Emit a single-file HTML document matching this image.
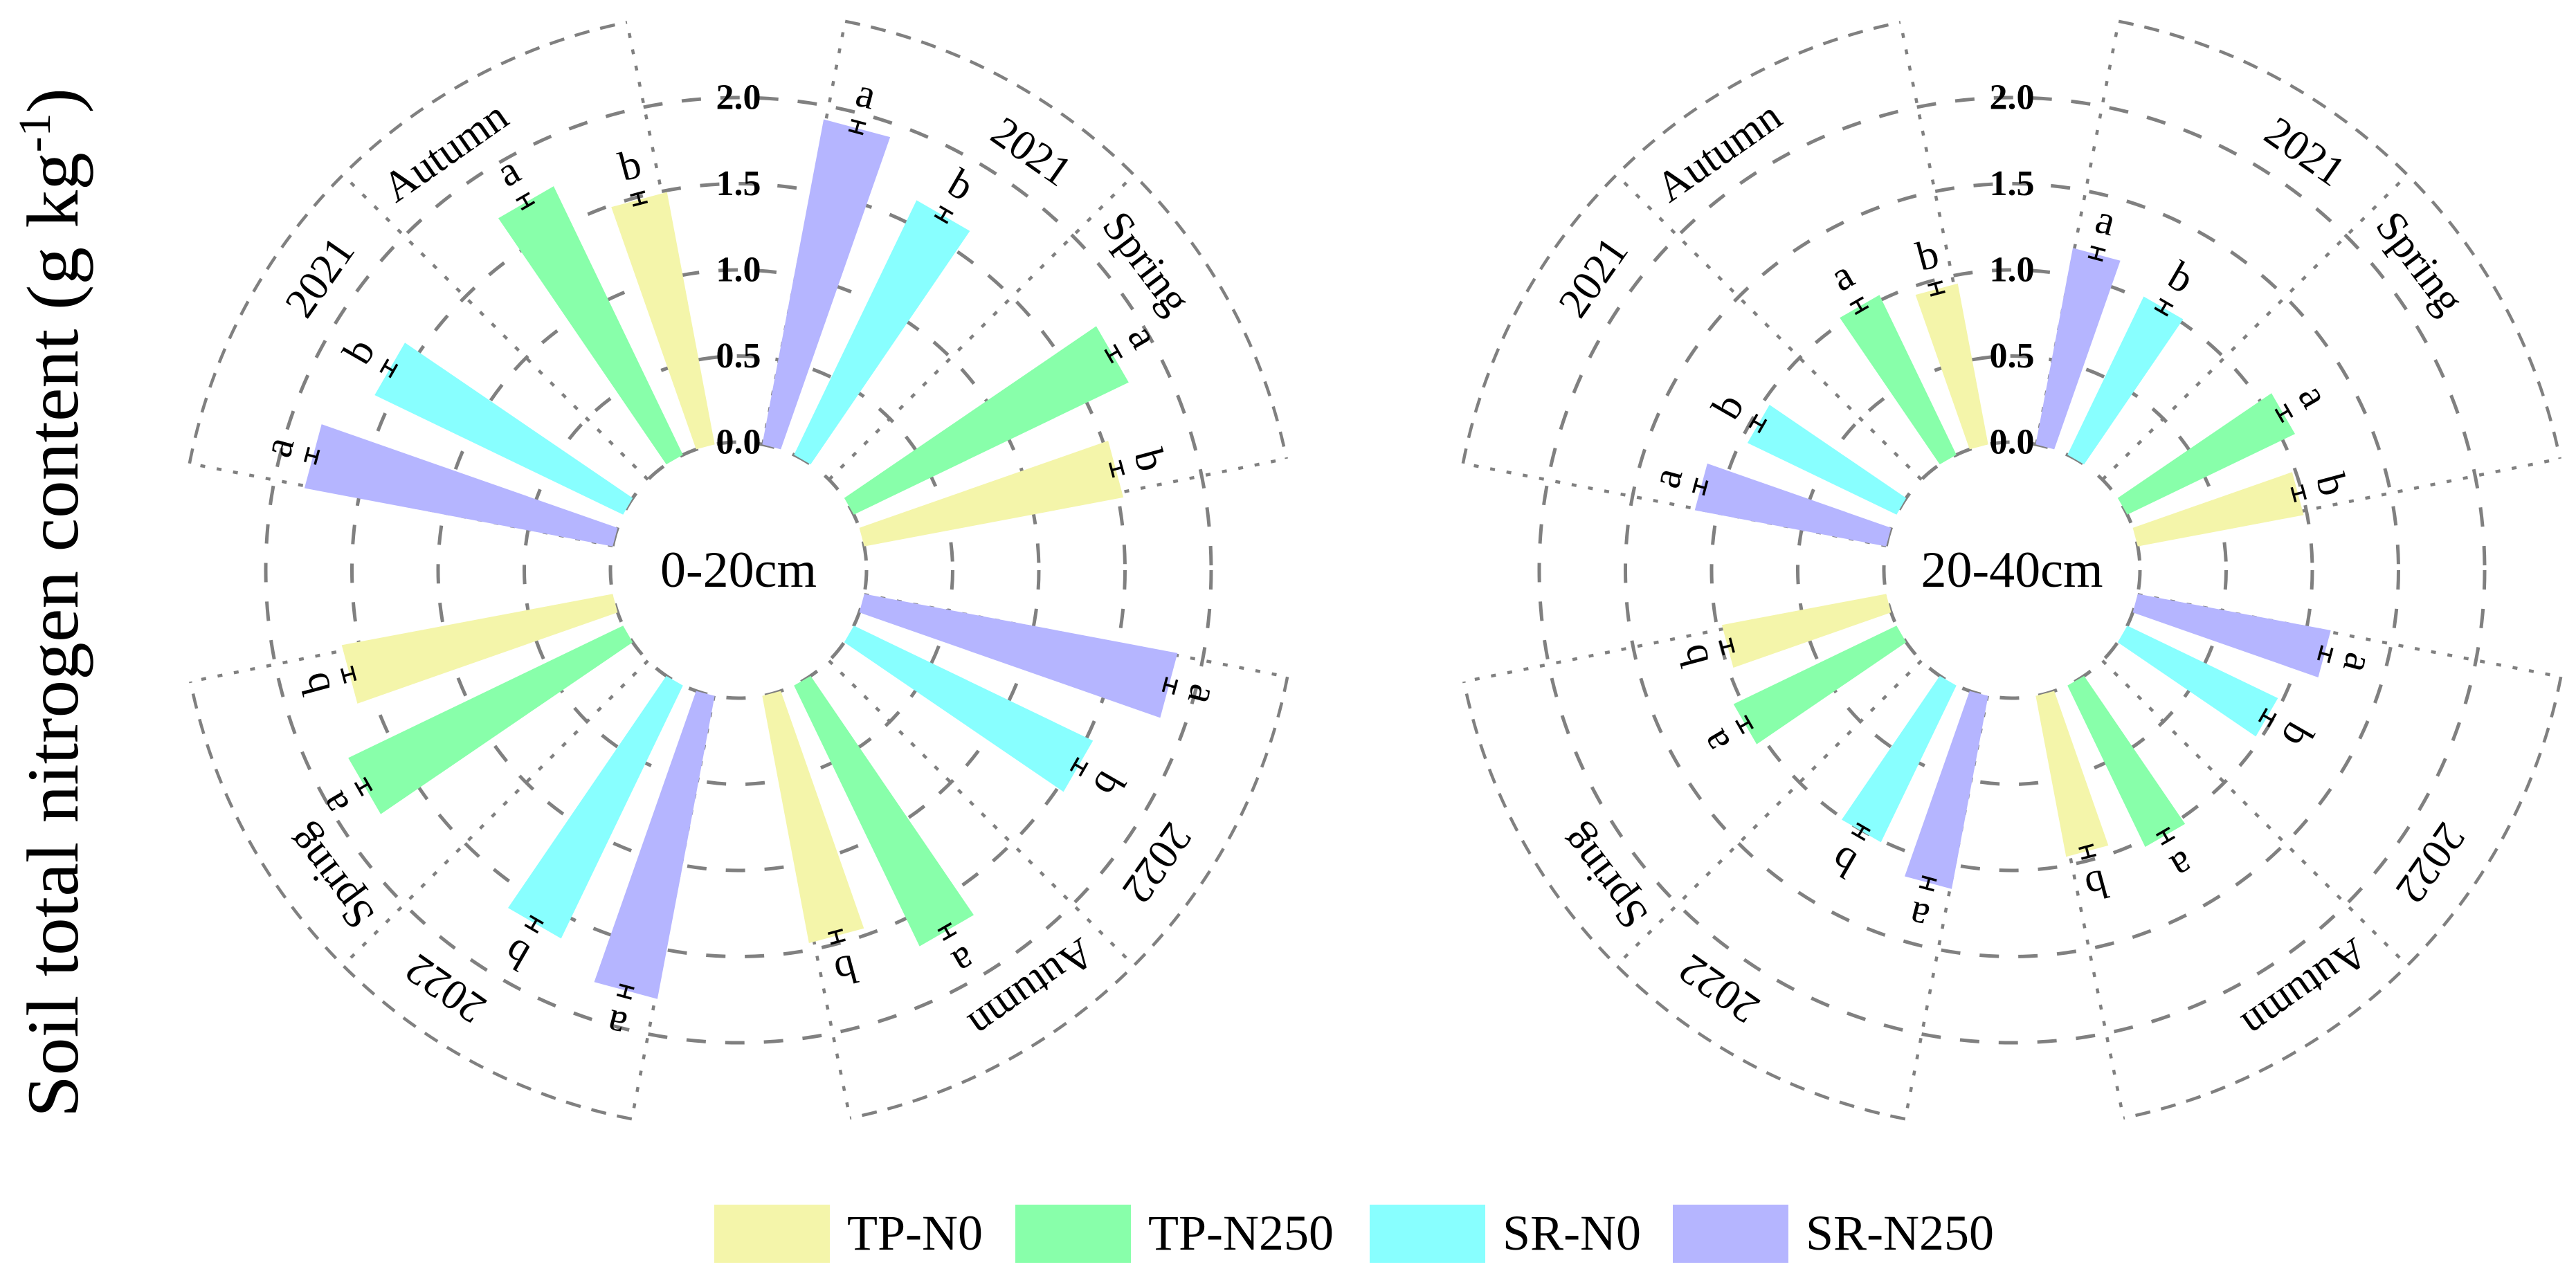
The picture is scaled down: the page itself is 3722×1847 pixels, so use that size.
<!DOCTYPE html>
<html><head><meta charset="utf-8"><style>
html,body{margin:0;padding:0;background:#fff;}
svg{display:block;font-family:"Liberation Serif",serif;}
svg text{font-family:"Liberation Serif",serif;}
</style></head><body>
<svg id="chart" width="3722" height="1847" viewBox="0 0 3722 1847" xmlns="http://www.w3.org/2000/svg" font-family="Liberation Serif, serif">
<text font-family="Liberation Serif, serif" transform="translate(112,871) rotate(-90)" text-anchor="middle" font-size="106" textLength="1488" lengthAdjust="spacingAndGlyphs">Soil total nitrogen content (g kg<tspan font-size="66" dy="-40">-1</tspan><tspan dy="40">)</tspan></text>
<g id="legend"></g>
</svg>
<script>
// Data
const seasons = ["2021 Spring", "2022 Autumn", "2022 Spring", "2021 Autumn"];
const yearLabels = ["2021", "2022", "2022", "2021"];
const seasonLabels = ["Spring", "Autumn", "Spring", "Autumn"];
const treatments = ["SR-N250", "SR-N0", "TP-N250", "TP-N0"];
const legendOrder = ["TP-N0", "TP-N250", "SR-N0", "SR-N250"];
const depths = ["0-20cm", "20-40cm"];
const tickValues = [0, 0.5, 1.0, 1.5, 2.0];
const tickLabels = ["0.0", "0.5", "1.0", "1.5", "2.0"];
// 0-20cm, one value per season (order of seasons)
const top_SR_N250 = [1.92, 1.85, 1.79, 1.82];
const top_SR_N0   = [1.64, 1.54, 1.63, 1.60];
const top_TP_N250 = [1.77, 1.68, 1.77, 1.73];
const top_TP_N0   = [1.53, 1.46, 1.60, 1.49];
// 20-40cm
const sub_SR_N250 = [1.16, 1.14, 1.14, 1.13];
const sub_SR_N0   = [1.02, 0.97, 1.01, 0.96];
const sub_TP_N250 = [1.08, 1.04, 1.05, 1.03];
const sub_TP_N0   = [0.98, 0.95, 0.97, 0.95];
const errTop = [0.03, 0.03, 0.03, 0.03];
const errSub = [0.03, 0.03, 0.03, 0.03];
const letters_SR_N250 = ["a", "a", "a", "a"];
const letters_SR_N0   = ["b", "b", "b", "b"];
const letters_TP_N250 = ["a", "a", "a", "a"];
const letters_TP_N0   = ["b", "b", "b", "b"];

const colors = {"TP-N0":"#f4f5aa","TP-N250":"#88ffaa","SR-N0":"#88ffff","SR-N250":"#b5b5ff"};
const NS = "http://www.w3.org/2000/svg";
const svg = document.getElementById("chart");
const R0 = 185, UNIT = 249, RBOX = 808, BARW = 8.6;
const offsets = [15, 30, 60, 75];
const GREY = "#808080";
const FONT = '"Liberation Serif", serif';

function rad(v){ return R0 + v * UNIT; }
function pt(cx, cy, r, deg){ const a = deg * Math.PI / 180; return [cx + r * Math.sin(a), cy - r * Math.cos(a)]; }
function mk(tag, attrs, parent){ const e = document.createElementNS(NS, tag); for (const k in attrs) e.setAttribute(k, attrs[k]); if (tag === "text") e.style.fontFamily = FONT; (parent || svg).appendChild(e); return e; }

function drawChart(cx, cy, depth, series, errs){
  const g = mk("g", {});
  
  
  for (let q = 0; q < 4; q++) {
    const a1 = q * 90 + 11, a2 = q * 90 + 78.5;
    const p1 = pt(cx, cy, RBOX, a1), p2 = pt(cx, cy, RBOX, a2);
    const arc = mk("path", {d: `M${p1[0]},${p1[1]} A${RBOX},${RBOX} 0 0 1 ${p2[0]},${p2[1]}`, fill: "none", stroke: GREY, "stroke-width": 4.5, "stroke-dasharray": "22 16"}, g);
    
    
    [a1, 45 + q * 90, a2].forEach(function(a){
      const i = pt(cx, cy, R0, a), o = pt(cx, cy, RBOX, a);
      const ln = mk("line", {x1: i[0], y1: i[1], x2: o[0], y2: o[1], stroke: GREY, "stroke-width": 4.5, "stroke-dasharray": "7 17"}, g);
      
      
    });
  }
  tickValues.forEach(function(v){
    const c = mk("circle", {cx: cx, cy: cy, r: rad(v), fill: "none", stroke: GREY, "stroke-width": 5, "stroke-dasharray": "28 28"}, g);
    
    
  });
  for (let q = 0; q < 4; q++) {
    for (let t = 0; t < 4; t++) {
      const name = treatments[t];
      const v = series[t].vals[q], e = errs[q];
      const th = q * 90 + offsets[t];
      const r = rad(v);
      const a = pt(cx, cy, R0, th - BARW / 2), b = pt(cx, cy, r, th - BARW / 2), c = pt(cx, cy, r, th + BARW / 2), d = pt(cx, cy, R0, th + BARW / 2);
      const bar = mk("polygon", {points: `${a} ${b} ${c} ${d}`, fill: colors[name]}, g);
      
      
      const lo = pt(cx, cy, rad(v - e), th), hi = pt(cx, cy, rad(v + e), th);
      const eg = mk("g", {stroke: "#000", "stroke-width": 3.5}, g);
      
      
      mk("line", {x1: lo[0], y1: lo[1], x2: hi[0], y2: hi[1]}, eg);
      [v - e, v + e].forEach(function(vv){
        const rr = rad(vv), da = 11 / rr * 180 / Math.PI;
        const p = pt(cx, cy, rr, th - da), s = pt(cx, cy, rr, th + da);
        mk("line", {x1: p[0], y1: p[1], x2: s[0], y2: s[1]}, eg);
      });
      const lp = pt(cx, cy, rad(v) + 50, th);
      const lt = mk("text", {x: lp[0], y: lp[1], "font-size": 60, "text-anchor": "middle", "dominant-baseline": "central", transform: `rotate(${th} ${lp[0]} ${lp[1]})`}, g);
      lt.textContent = series[t].letters[q];
      
      
    }
    const ya = q * 90 + 35;
    const yp = pt(cx, cy, 738, ya);
    const yt = mk("text", {x: yp[0], y: yp[1], "font-size": 62, "text-anchor": "middle", "dominant-baseline": "central", transform: `rotate(${ya} ${yp[0]} ${yp[1]})`}, g);
    yt.textContent = yearLabels[q];
    
    
    const sa = q * 90 + (seasonLabels[q] === "Spring" ? 53 : 55);
    const sp = pt(cx, cy, 738, sa);
    const st = mk("text", {x: sp[0], y: sp[1], "font-size": 62, "text-anchor": "middle", "dominant-baseline": "central", transform: `rotate(${sa} ${sp[0]} ${sp[1]})`}, g);
    st.textContent = seasonLabels[q];
    
    
  }
  tickValues.forEach(function(v, i){
    const tl = mk("text", {x: cx, y: cy - rad(v), "font-size": 52, "font-weight": "bold", "text-anchor": "middle", "dominant-baseline": "central"}, g);
    tl.textContent = tickLabels[i];
    
    
  });
  const ct = mk("text", {x: cx, y: cy, "font-size": 74, "text-anchor": "middle", "dominant-baseline": "central"}, g);
  ct.textContent = depth;
  
  
}

drawChart(1067, 824, depths[0], [
  {vals: top_SR_N250, letters: letters_SR_N250},
  {vals: top_SR_N0, letters: letters_SR_N0},
  {vals: top_TP_N250, letters: letters_TP_N250},
  {vals: top_TP_N0, letters: letters_TP_N0}], errTop);
drawChart(2907, 824, depths[1], [
  {vals: sub_SR_N250, letters: letters_SR_N250},
  {vals: sub_SR_N0, letters: letters_SR_N0},
  {vals: sub_TP_N250, letters: letters_TP_N250},
  {vals: sub_TP_N0, letters: letters_TP_N0}], errSub);

const legend = document.getElementById("legend");
const legX = [1032, 1467, 1979, 2417];
legendOrder.forEach(function(name, i){
  const lg = mk("g", {}, legend);
  
  
  const r = mk("rect", {x: legX[i], y: 1741, width: 167, height: 84, fill: colors[name]}, lg);
  
  
  const t = mk("text", {x: legX[i] + 192, y: 1806, "font-size": 72}, lg);
  t.textContent = name;
  
  
});
</script>
</body></html>
